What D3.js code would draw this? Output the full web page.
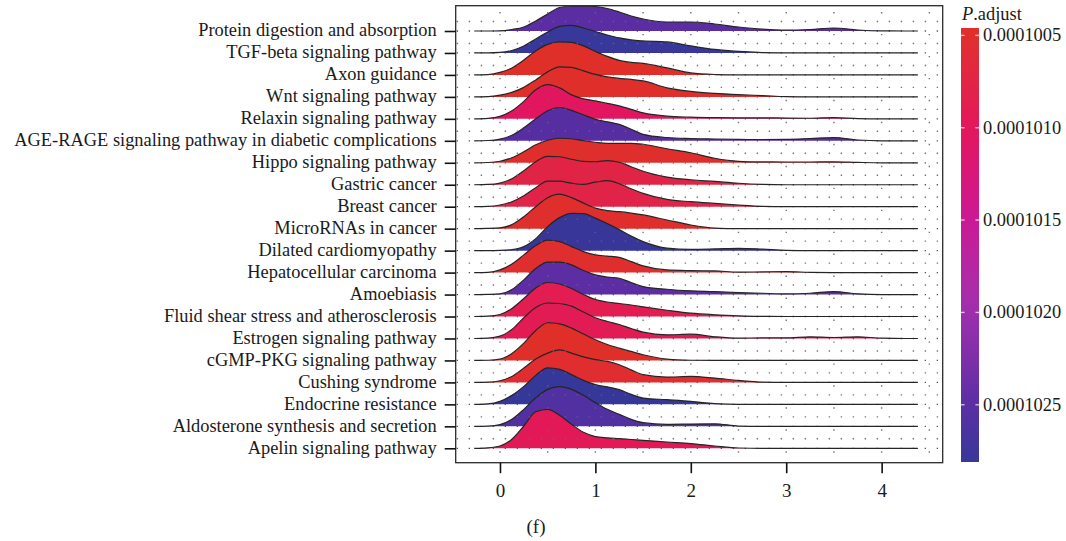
<!DOCTYPE html>
<html>
<head>
<meta charset="utf-8">
<script src="https://cdn.jsdelivr.net/npm/d3@7"></script>
<style>
  html, body { margin: 0; padding: 0; background: #fff; }
  svg { display: block; }
  text { font-family: "Liberation Serif", "Times New Roman", serif; fill: #1a1a1a; }
</style>
</head>
<body>
<svg id="chart" width="1066" height="541"></svg>
<script>
// KEGG pathways, listed top to bottom as drawn
const pathways = [
  "Protein digestion and absorption",
  "TGF-beta signaling pathway",
  "Axon guidance",
  "Wnt signaling pathway",
  "Relaxin signaling pathway",
  "AGE-RAGE signaling pathway in diabetic complications",
  "Hippo signaling pathway",
  "Gastric cancer",
  "Breast cancer",
  "MicroRNAs in cancer",
  "Dilated cardiomyopathy",
  "Hepatocellular carcinoma",
  "Amoebiasis",
  "Fluid shear stress and atherosclerosis",
  "Estrogen signaling pathway",
  "cGMP-PKG signaling pathway",
  "Cushing syndrome",
  "Endocrine resistance",
  "Aldosterone synthesis and secretion",
  "Apelin signaling pathway"
];

// adjusted p-value of each pathway (same order)
const pAdjust = [
  0.00010250, 0.00010279, 0.00010046, 0.00010047, 0.00010103,
  0.00010252, 0.00010050, 0.00010074, 0.00010076, 0.00010049,
  0.00010278, 0.00010051, 0.00010249, 0.00010090, 0.00010092,
  0.00010046, 0.00010053, 0.00010281, 0.00010258, 0.00010096
];
const pRange = [0.00010046, 0.00010281];

// evaluation points of the fold-change densities
const gridX = [-0.27, -0.125, 0, 0.125, 0.25, 0.375, 0.5, 0.625, 0.75, 0.875, 1, 1.125, 1.25, 1.375, 1.5,
               1.75, 2, 2.25, 2.5, 2.75, 3, 3.25, 3.5, 3.75, 4, 4.25, 4.38];

// density estimates per pathway (same order as pathways, one value per gridX point)
const densityRows = [
  [0, 0, 0.2, 1.5, 4, 10, 17, 23.5, 25, 25, 24.5, 22.5, 19, 15, 12, 9, 9, 7, 4, 1.8, 0.8, 1.5, 3, 1, 0.1, 0, 0],
  [0, 0, 0.5, 2.5, 7, 14, 21, 26.5, 27.5, 25, 21.5, 18, 15, 13, 12, 11, 7, 3.5, 1.5, 0.4, 0, 0, 0, 0, 0, 0, 0],
  [0, 0.3, 2.5, 7, 15, 24, 30.5, 33, 32.5, 29, 23.5, 18.5, 14.5, 12.5, 11.5, 7, 2, 0.4, 0, 0, 0, 0, 0, 0, 0, 0, 0],
  [0, 0.3, 1.7, 4.5, 9.5, 17, 25, 30, 29.5, 26, 22.5, 20, 18.5, 17.5, 16, 9, 5.5, 3.5, 2.2, 1.3, 0.3, 0, 0, 0, 0, 0, 0],
  [0, 0.5, 2.5, 8, 17.5, 29, 34.3, 31, 24, 20, 18, 15.5, 13, 9.5, 6, 2.7, 1.7, 1.2, 1, 1, 0.8, 0.6, 1.3, 0.3, 0, 0, 0],
  [0, 0.3, 1.7, 5.5, 13, 22, 30, 33.3, 30.5, 26, 21.5, 19, 16.5, 11.5, 6.5, 3.3, 2.3, 1.8, 1.4, 1.3, 1.5, 2.3, 3.2, 0.8, 0, 0, 0],
  [0, 0.3, 1.5, 5, 11, 18, 22.5, 24.5, 24, 22, 20.5, 19.5, 19.5, 19.5, 18.5, 14, 10, 4.5, 1.5, 0.9, 0.8, 0.8, 1, 0.4, 0, 0, 0],
  [0, 0.3, 1.7, 6, 14, 23, 28.3, 28, 25.5, 23.3, 23, 24.2, 22.5, 18, 13.5, 7.7, 5, 3.3, 1.5, 0.4, 0, 0, 0, 0, 0, 0, 0],
  [0, 0.3, 1.7, 5, 11, 19, 25.5, 25.5, 23.5, 22.3, 24.5, 26, 23, 18, 13.3, 7.3, 5, 3.3, 1.7, 0.4, 0, 0, 0, 0, 0, 0, 0],
  [0, 0.2, 0.8, 4, 12, 22, 31, 34.5, 31, 25.5, 20.5, 18, 17, 15.5, 13.7, 8.7, 3.7, 0.6, 0, 0, 0, 0, 0, 0, 0, 0, 0],
  [0, 0, 0.2, 1, 4, 12, 24, 33, 37.3, 37, 32.5, 27, 21, 14.5, 9, 2.5, 1.3, 1.7, 2.3, 1.5, 0.3, 0, 0, 0, 0, 0, 0],
  [0, 0.3, 2.7, 8.5, 17.7, 27, 32.5, 31, 26, 21, 17.7, 16.5, 15.3, 11, 6.7, 2.7, 2, 1.7, 0.5, 0.7, 1, 0.2, 0, 0, 0, 0, 0],
  [0, 0.2, 0.7, 5, 14.7, 26, 32.5, 32.5, 29.7, 24, 19.7, 17.5, 16.3, 12, 8, 5.3, 3.7, 3, 2, 1.3, 0.7, 1.3, 3, 0.7, 0, 0, 0],
  [0, 0.3, 2, 8, 18, 28.5, 34, 32.5, 28, 22, 17, 14.5, 13, 11.5, 9.7, 6.3, 3.3, 1.7, 0.7, 0.2, 0, 0, 0, 0, 0, 0, 0],
  [0, 0.3, 2.3, 9, 20.7, 31, 35.5, 35, 32.3, 26.5, 20.7, 17, 14, 10, 6.3, 3.7, 4.3, 1.7, 0.3, 0.7, 0.7, 1.7, 1, 1.7, 0.3, 0, 0],
  [0, 0.2, 1.3, 7, 17.3, 30, 37.7, 36.5, 32.3, 26.5, 20.7, 16, 12.3, 9, 5.7, 1.3, 0.2, 0, 0, 0, 0, 0, 0, 0, 0, 0, 0],
  [0, 0.3, 1.7, 6, 14.3, 23.5, 29.3, 32.5, 29.3, 25.5, 22.7, 21, 17.7, 12.5, 7.7, 5.3, 6, 4.3, 2, 0.3, 0, 0, 0, 0, 0, 0, 0],
  [0, 0.5, 3, 9, 18, 29, 36.5, 35, 29.7, 24, 19.7, 17.5, 14.7, 10, 6.3, 4.7, 3, 0.7, 0, 0, 0, 0, 0, 0, 0, 0, 0],
  [0, 0.3, 1.7, 7, 17, 28.5, 37, 39.7, 37, 31, 23.7, 17, 12, 7, 3.7, 2, 2.3, 2.5, 0.3, 0, 0, 0, 0, 0, 0, 0, 0],
  [0, 0.5, 2.3, 9, 22.3, 36.5, 39, 33, 24, 16, 11.7, 10.5, 9.7, 8.8, 8, 6.3, 4.7, 2.3, 0.3, 0, 0, 0, 0, 0, 0, 0, 0]
];

const xTicks = [0, 1, 2, 3, 4];
const legendTicks = [0.0001005, 0.0001010, 0.0001015, 0.0001020, 0.0001025];
const legendLabels = ["0.0001005", "0.0001010", "0.0001015", "0.0001020", "0.0001025"];

// ---------- layout ----------
const svg = d3.select("#chart");
const panel = { left: 455.7, right: 942.7, top: 5.7, bottom: 462.7 };
const labelSize = 18.4;
const legendSize = 18.4;
const tickSize = 19;

const x = d3.scaleLinear().domain([-0.464, 4.64]).range([panel.left, panel.right]);
const y = d3.scalePoint().domain(pathways).range([31, 448.3]);
const h = d3.scaleLinear().domain([0, 21.96]).range([0, y.step()]);

// colour ramp of the adjusted p-value
const colourStops = [pRange[0], 0.0001010, 0.0001015, 0.0001020, 0.0001025, pRange[1]];
const colourRamp = ["#E0302A", "#E3175C", "#CC1896", "#9E2FAE", "#5A2EA3", "#36389A"];
const colour = d3.scaleLinear().domain(colourStops).range(colourRamp).interpolate(d3.interpolateLab);

svg.append("defs").append("clipPath").attr("id", "panel-clip")
  .append("rect")
  .attr("x", panel.left).attr("y", panel.top)
  .attr("width", panel.right - panel.left).attr("height", panel.bottom - panel.top);

const plot = svg.append("g").attr("clip-path", "url(#panel-clip)");

// dotted grid along each baseline (under the ridges)
plot.append("g").selectAll("line").data(pathways).join("line")
  .attr("x1", panel.left).attr("x2", panel.right)
  .attr("y1", d => y(d)).attr("y2", d => y(d))
  .attr("stroke", "#555").attr("stroke-width", 1.3)
  .attr("stroke-dasharray", "1.3 10.7").attr("stroke-dashoffset", -1);

// ridges, drawn top to bottom so lower rows overlap upper ones
const area = d3.area()
  .x((d, i) => x(gridX[i]))
  .y0(0)
  .y1(d => -h(d))
  .curve(d3.curveMonotoneX);
const outline = d3.line()
  .x((d, i) => x(gridX[i]))
  .y(d => -h(d))
  .curve(d3.curveMonotoneX);

const ridges = plot.append("g").selectAll("g").data(pathways).join("g")
  .attr("transform", d => `translate(0,${y(d)})`);
ridges.append("path")
  .attr("d", (d, i) => area(densityRows[i]))
  .attr("fill", (d, i) => colour(pAdjust[i]));
ridges.append("path")
  .attr("d", (d, i) => outline(densityRows[i]))
  .attr("fill", "none")
  .attr("stroke", "#262626")
  .attr("stroke-width", 1.2)
  .attr("stroke-linejoin", "round");

// dotted grid over the panel
const gridBreaks = d3.range(0, 4.51, 0.5);
const overGrid = plot.append("g").attr("opacity", 0.9);
overGrid.selectAll("line.v").data(gridBreaks).join("line").attr("class", "v")
  .attr("x1", d => x(d)).attr("x2", d => x(d))
  .attr("y1", panel.top).attr("y2", panel.bottom)
  .attr("stroke", "#666").attr("stroke-width", 1.4)
  .attr("stroke-dasharray", `1.4 ${y.step() - 1.4}`)
  .attr("stroke-dashoffset", -6.3);
overGrid.selectAll("line.h").data(pathways).join("line").attr("class", "h")
  .attr("x1", panel.left).attr("x2", panel.right)
  .attr("y1", d => y(d) - 9.5).attr("y2", d => y(d) - 9.5)
  .attr("stroke", "#666").attr("stroke-width", 1.4)
  .attr("stroke-dasharray", "1.4 10.6").attr("stroke-dashoffset", -1);

// panel border
svg.append("rect")
  .attr("x", panel.left).attr("y", panel.top)
  .attr("width", panel.right - panel.left).attr("height", panel.bottom - panel.top)
  .attr("fill", "none").attr("stroke", "#2a2a2a").attr("stroke-width", 1.3);

// y axis
const yAxis = svg.append("g").attr("transform", `translate(${panel.left},0)`)
  .call(d3.axisLeft(y).tickSize(11).tickSizeOuter(0).tickPadding(8));
yAxis.select(".domain").remove();
yAxis.selectAll(".tick line").attr("stroke", "#111").attr("stroke-width", 1.6);
yAxis.selectAll(".tick text")
  .attr("font-size", labelSize).attr("font-family", null).attr("fill", "#1a1a1a")
  .attr("dy", "0.27em");

// x axis
const xAxis = svg.append("g").attr("transform", `translate(0,${panel.bottom})`)
  .call(d3.axisBottom(x).tickValues(xTicks).tickFormat(d3.format("d")).tickSize(10.5).tickSizeOuter(0).tickPadding(10));
xAxis.select(".domain").remove();
xAxis.selectAll(".tick line").attr("stroke", "#111").attr("stroke-width", 1.6);
xAxis.selectAll(".tick text")
  .attr("font-size", tickSize).attr("font-family", null).attr("fill", "#1a1a1a");

// colour bar legend
const bar = { x: 961, width: 18, top: 28, bottom: 462 };
const pY = d3.scaleLinear().domain(pRange).range([bar.top, bar.bottom]);
const grad = svg.select("defs").append("linearGradient")
  .attr("id", "padj-grad").attr("x1", 0).attr("y1", 0).attr("x2", 0).attr("y2", 1);
d3.range(0, 1.0001, 0.05).forEach(t => {
  const p = pRange[0] + t * (pRange[1] - pRange[0]);
  grad.append("stop").attr("offset", t).attr("stop-color", colour(p));
});
svg.append("rect")
  .attr("x", bar.x).attr("y", bar.top)
  .attr("width", bar.width).attr("height", bar.bottom - bar.top)
  .attr("fill", "url(#padj-grad)");
const legendTickG = svg.append("g");
legendTicks.forEach((v, i) => {
  const yy = pY(v);
  [bar.x, bar.x + bar.width - 3.6].forEach(x0 => {
    legendTickG.append("line")
      .attr("x1", x0).attr("x2", x0 + 3.6).attr("y1", yy).attr("y2", yy)
      .attr("stroke", "#fff").attr("stroke-opacity", 0.7).attr("stroke-width", 1.4);
  });
  svg.append("text")
    .attr("x", bar.x + bar.width + 4).attr("y", yy).attr("dy", "0.33em")
    .attr("font-size", legendSize)
    .text(legendLabels[i]);
});
const title = svg.append("text").attr("x", 962).attr("y", 20).attr("font-size", legendSize);
title.append("tspan").attr("font-style", "italic").text("P");
title.append("tspan").text(".adjust");

// panel caption
svg.append("text")
  .attr("x", 536).attr("y", 533).attr("text-anchor", "middle")
  .attr("font-size", tickSize)
  .text("(f)");
</script>
</body>
</html>
